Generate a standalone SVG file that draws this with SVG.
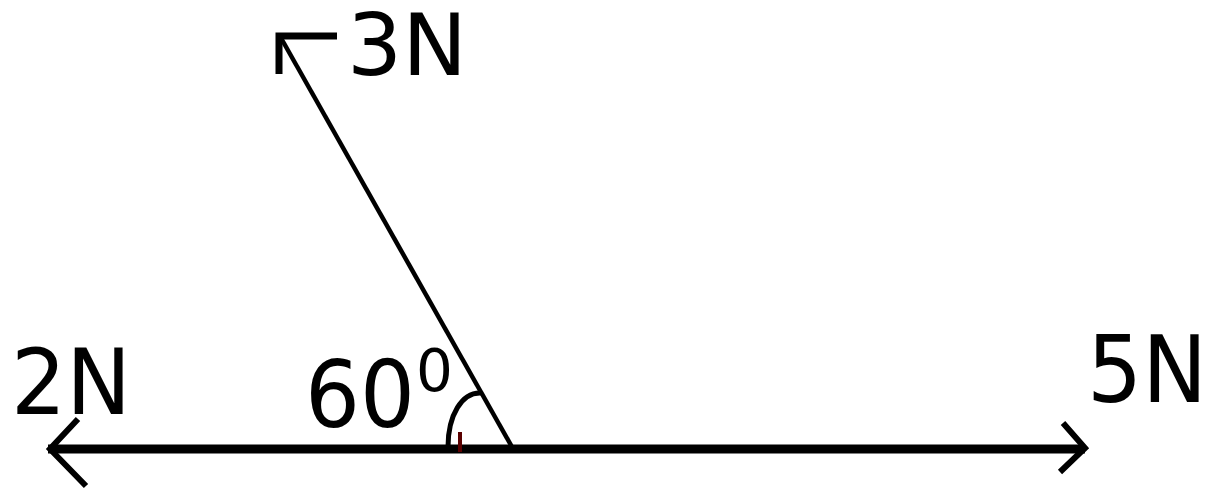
<svg xmlns="http://www.w3.org/2000/svg" width="1211" height="490" viewBox="0 0 1211 490">
<style>
.lbl{font-family:"DejaVu Sans","Liberation Sans",sans-serif;fill:#000}
.ln{stroke:#000;fill:none;stroke-linecap:butt;stroke-linejoin:miter}
</style>
<rect width="1211" height="490" fill="#fff"/>
<g id="connectors">
<line class="ln" x1="48" y1="449" x2="1085" y2="449" stroke-width="9"/>
<polyline class="ln" points="78,419 50,449 86,486" stroke-width="6"/>
<polyline class="ln" points="1063,423 1085,448 1060,472" stroke-width="6"/>
<line class="ln" x1="512" y1="447" x2="281" y2="38" stroke-width="4.5"/>
<polyline class="ln" points="337,36 279,36 279,74" stroke-width="7"/>
<path class="ln" d="M448 447 C448 415 462 392 481 393" stroke-width="5"/>
<line x1="460" y1="432" x2="460" y2="452" stroke="#5a0000" stroke-width="4"/>
</g>
<g id="label-3N"><text class="lbl" x="347" y="75" font-size="86" textLength="120" lengthAdjust="spacingAndGlyphs">3N</text></g>
<g id="label-2N"><text class="lbl" x="11" y="414" font-size="90" textLength="120" lengthAdjust="spacingAndGlyphs">2N</text></g>
<g id="label-5N"><text class="lbl" x="1087" y="402" font-size="92" textLength="120" lengthAdjust="spacingAndGlyphs">5N</text></g>
<g id="label-angle"><text class="lbl" x="305" y="427" font-size="92" textLength="110" lengthAdjust="spacingAndGlyphs">60</text><text class="lbl" x="416" y="391" font-size="58">0</text></g>
</svg>
